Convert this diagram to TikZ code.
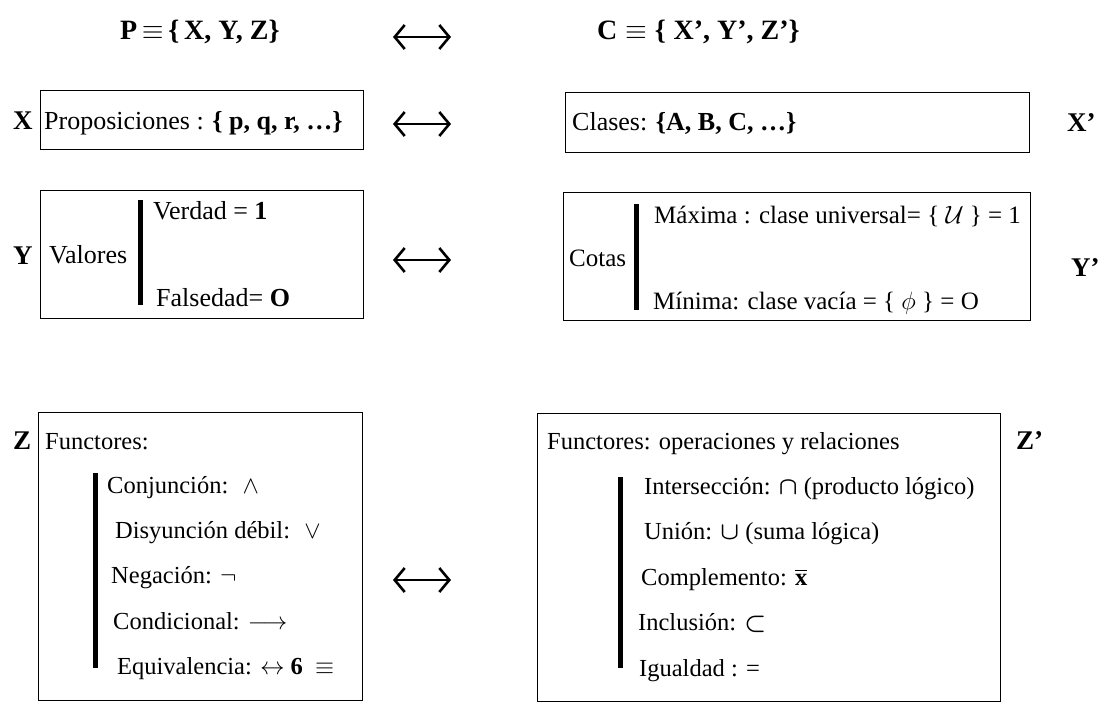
\RequirePackage{fix-cm}
\documentclass[tikz,border=0pt]{standalone}
\usepackage{amsmath}
\usepackage{fontspec}
\setmainfont{Liberation Serif}
\usetikzlibrary{arrows.meta}
\tikzset{
  box/.style={draw, line width=1.2pt, inner sep=0pt, anchor=north west},
  bar/.style={line width=5pt},
  txt/.style={anchor=base west, inner sep=0pt, font=\fontsize{24.5}{28}\selectfont},
  txtl/.style={anchor=base west, inner sep=0pt, font=\fontsize{26}{30}\selectfont},
  txtm/.style={anchor=base west, inner sep=0pt, font=\fontsize{25}{30}\selectfont},
  hdr/.style={anchor=base west, inner sep=0pt, font=\fontsize{28}{32}\selectfont},
  lbl/.style={anchor=base west, inner sep=0pt, font=\fontsize{27}{30}\selectfont\bfseries},
  dblarrow/.style={line width=2.6pt, {Straight Barb[length=10pt,width=24pt]}-{Straight Barb[length=10pt,width=24pt]}}
}
\begin{document}
\begin{tikzpicture}[x=1pt,y=-1pt]
\useasboundingbox (0,0) rectangle (1099,702);
% header
\node[hdr] (hp) at (120,39) {\textbf{P}$\,\equiv\,$\textbf{\{\,X, Y, Z\}}};
\node[hdr] (hc) at (597,39) {\textbf{C}$\;\equiv\;$\textbf{\{\;X', Y', Z'\}}};
\coordinate (a0l) at (393,37); \coordinate (a0r) at (451,37);
\draw[dblarrow] (a0l) -- (a0r);
% row X
\node[lbl] (lx) at (13,129) {X};
\node[box, minimum width=323pt, minimum height=59pt] (bx) at (40,90) {};
\node[txtl] (tx) at (44,129) {Proposiciones : \textbf{\{ p, q, r, \dots\}}};
\coordinate (a1l) at (393,124); \coordinate (a1r) at (451,124);
\draw[dblarrow] (a1l) -- (a1r);
\node[box, minimum width=464pt, minimum height=60pt] (bxp) at (565,92) {};
\node[txtl] (txp) at (572,130) {Clases: \textbf{\{A, B, C, \dots\}}};
\node[lbl] (lxp) at (1067,131) {X'};
% row Y
\node[lbl] (ly) at (13,264) {Y};
\node[box, minimum width=323pt, minimum height=128pt] (by) at (40,190) {};
\node[txtl] (tval) at (49,263) {Valores};
\coordinate (b1t) at (140,200); \coordinate (b1b) at (140,305);
\draw[bar] (b1t) -- (b1b);
\node[txtl] (tver) at (153,219) {Verdad = \textbf{1}};
\node[txtl] (tfal) at (156,306) {Falsedad= \textbf{O}};
\coordinate (a2l) at (393,260); \coordinate (a2r) at (451,260);
\draw[dblarrow] (a2l) -- (a2r);
\node[box, minimum width=467pt, minimum height=128pt] (byp) at (563,192) {};
\node[txtm] (tcot) at (569,266) {Cotas};
\coordinate (b2t) at (636,204); \coordinate (b2b) at (636,310);
\draw[bar] (b2t) -- (b2b);
\node[txtm] (tmax) at (654,223) {Máxima : clase universal= \{ $\mathcal{U}$ \} = 1};
\node[txtm] (tmin) at (653,309) {Mínima: clase vacía = \{ $\phi$ \} = O};
\node[lbl] (lyp) at (1071,276) {Y'};
% row Z
\node[lbl] (lz) at (13,449) {Z};
\node[box, minimum width=324pt, minimum height=288pt] (bz) at (38,412) {};
\node[txt] (tfun) at (45,449) {Functores:};
\coordinate (b3t) at (95,473); \coordinate (b3b) at (95,668);
\draw[bar] (b3t) -- (b3b);
\node[txt] (z1) at (107,493) {Conjunción: \ $\wedge$};
\node[txt] (z2) at (115,538) {Disyunción débil: \ $\vee$};
\node[txt] (z3) at (111,583) {Negación: $\neg$};
\node[txt] (z4) at (113,629) {Condicional: $\longrightarrow$};
\node[txt] (z5) at (117,674) {Equivalencia: $\leftrightarrow$ \textbf{6} \ $\equiv$};
\coordinate (a3l) at (393,580); \coordinate (a3r) at (451,580);
\draw[dblarrow] (a3l) -- (a3r);
\node[box, minimum width=463pt, minimum height=288pt] (bzp) at (537,413) {};
\node[txt] (tfunp) at (547,449) {Functores: operaciones y relaciones};
\node[lbl] (lzp) at (1016,449) {Z'};
\coordinate (b4t) at (620,477); \coordinate (b4b) at (620,668);
\draw[bar] (b4t) -- (b4b);
\node[txt] (w1) at (644,494) {Intersección: {\boldmath$\cap$} (producto lógico)};
\node[txt] (w2) at (644,539) {Unión: {\boldmath$\cup$} (suma lógica)};
\node[txt] (w3) at (641,585) {Complemento: $\overline{\mathbf{x}}$};
\node[txt] (w4) at (638,630) {Inclusión: {\boldmath$\subset$}};
\node[txt] (w5) at (639,676) {Igualdad : =};
\end{tikzpicture}
\end{document}
